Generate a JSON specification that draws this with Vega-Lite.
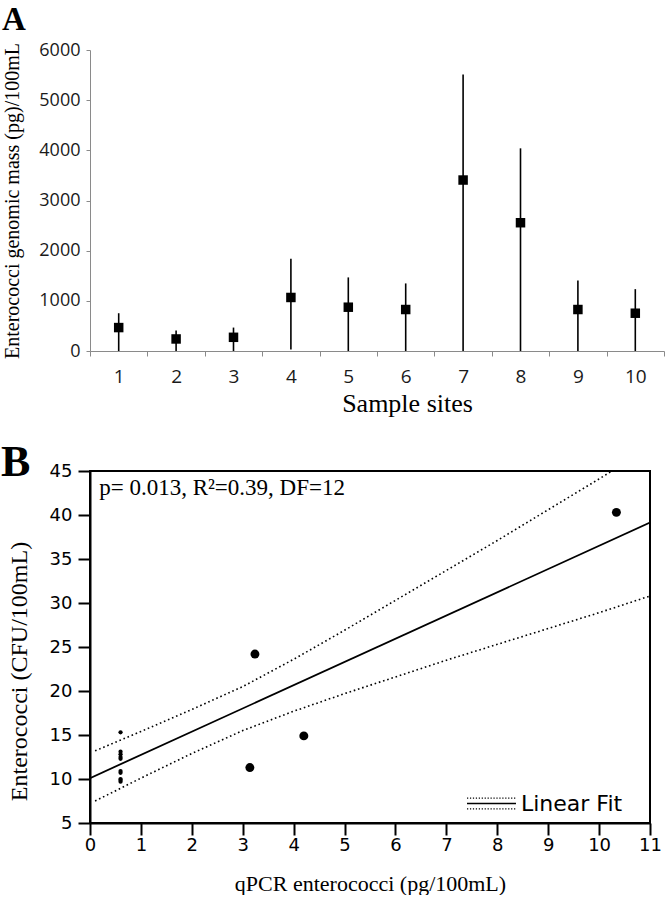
{
  "$schema": "https://vega.github.io/schema/vega-lite/v6.json",
  "background": "white",
  "padding": {"left": 0, "top": 4, "right": 2, "bottom": 0},
  "spacing": 24,
  "config": {"view": {"stroke": null}},
  "datasets": {
    "sites": [
      {"site": 1, "mean": 467, "lo": 0, "hi": 753},
      {"site": 2, "mean": 240, "lo": 0, "hi": 407},
      {"site": 3, "mean": 273, "lo": 0, "hi": 467},
      {"site": 4, "mean": 1067, "lo": 30, "hi": 1840},
      {"site": 5, "mean": 873, "lo": 0, "hi": 1467},
      {"site": 6, "mean": 827, "lo": 0, "hi": 1347},
      {"site": 7, "mean": 3408, "lo": 0, "hi": 5510},
      {"site": 8, "mean": 2557, "lo": 0, "hi": 4040},
      {"site": 9, "mean": 827, "lo": 0, "hi": 1407},
      {"site": 10, "mean": 753, "lo": 0, "hi": 1233}
    ],
    "points": [
      {"x": 0.6, "y": 15.3}, {"x": 0.6, "y": 13.1}, {"x": 0.6, "y": 12.8}, {"x": 0.6, "y": 12.5}, {"x": 0.6, "y": 12.3},
      {"x": 0.6, "y": 10.9}, {"x": 0.6, "y": 10.7}, {"x": 0.6, "y": 10.0}, {"x": 0.6, "y": 9.9}, {"x": 0.6, "y": 9.7},
      {"x": 3.14, "y": 11.3}, {"x": 3.24, "y": 24.2}, {"x": 4.2, "y": 14.9}, {"x": 10.34, "y": 40.3}
    ],
    "fit": [
      {"x": 0, "y": 10.1, "series": "Linear Fit"},
      {"x": 11, "y": 39.14, "series": "Linear Fit"}
    ],
    "bands": [
      {"x": 0.1, "y": 13.2, "side": "upper"}, {"x": 1, "y": 15.4, "side": "upper"}, {"x": 2, "y": 17.9, "side": "upper"},
      {"x": 3, "y": 20.5, "side": "upper"}, {"x": 4, "y": 23.6, "side": "upper"}, {"x": 5, "y": 26.9, "side": "upper"},
      {"x": 6, "y": 30.3, "side": "upper"}, {"x": 7, "y": 33.7, "side": "upper"}, {"x": 8, "y": 37.1, "side": "upper"},
      {"x": 9, "y": 40.6, "side": "upper"}, {"x": 10, "y": 44.1, "side": "upper"}, {"x": 10.25, "y": 45, "side": "upper"},
      {"x": 0.1, "y": 7.5, "side": "lower"}, {"x": 1, "y": 10.1, "side": "lower"}, {"x": 2, "y": 12.9, "side": "lower"},
      {"x": 3, "y": 15.5, "side": "lower"}, {"x": 4, "y": 17.7, "side": "lower"}, {"x": 5, "y": 19.7, "side": "lower"},
      {"x": 6, "y": 21.6, "side": "lower"}, {"x": 7, "y": 23.5, "side": "lower"}, {"x": 8, "y": 25.3, "side": "lower"},
      {"x": 9, "y": 27.1, "side": "lower"}, {"x": 10, "y": 28.9, "side": "lower"}, {"x": 11, "y": 30.8, "side": "lower"}
    ],
    "note": [
      {"x": 0.18, "y": 43.1, "label": "p= 0.013, R²=0.39, DF=12"}
    ]
  },
  "vconcat": [
    {
      "width": 574,
      "height": 301,
      "title": {"text": "A", "anchor": "start", "frame": "group", "font": "Liberation Serif", "fontSize": 33, "fontWeight": "bold", "color": "black", "dx": -88, "offset": 4},
      "data": {"name": "sites"},
      "encoding": {
        "x": {
          "field": "site", "type": "ordinal",
          "scale": {"paddingInner": 0, "paddingOuter": 0},
          "axis": {
            "labelAngle": 0, "tickBand": "extent", "domainColor": "#8a8a8a", "tickColor": "#8a8a8a",
            "tickSize": 5, "labelFont": "Open Sans", "labelFontSize": 19, "labelColor": "#1a1a1a", "labelPadding": 11,
            "title": "Sample sites", "titleFont": "Liberation Serif", "titleFontSize": 26, "titleFontWeight": "normal",
            "titleColor": "black", "titlePadding": 4, "titleX": 317
          }
        }
      },
      "layer": [
        {
          "mark": {"type": "rule", "color": "black", "strokeWidth": 1.6},
          "encoding": {
            "y": {
              "field": "lo", "type": "quantitative",
              "scale": {"domain": [0, 6000], "nice": false},
              "axis": {
                "values": [0, 1000, 2000, 3000, 4000, 5000, 6000], "grid": false, "domainColor": "#8a8a8a",
                "tickColor": "#8a8a8a", "tickSize": 4, "labelFont": "Open Sans", "labelFontSize": 18,
                "labelColor": "#1a1a1a", "labelPadding": 6, "format": "d",
                "title": "Enterococci genomic mass (pg)/100mL", "titleFont": "Liberation Serif", "titleFontSize": 20,
                "titleFontWeight": "normal", "titleColor": "black", "titlePadding": 16
              }
            },
            "y2": {"field": "hi"}
          }
        },
        {
          "mark": {"type": "point", "shape": "square", "filled": true, "size": 90, "color": "black", "opacity": 1},
          "encoding": {"y": {"field": "mean", "type": "quantitative"}}
        }
      ]
    },
    {
      "width": 560,
      "height": 352,
      "view": {"stroke": "black", "strokeWidth": 2},
      "title": {"text": "B", "anchor": "start", "frame": "group", "font": "Liberation Serif", "fontSize": 44, "fontWeight": "bold", "color": "black", "dx": -89, "offset": -23},
      "layer": [
        {
          "data": {"name": "bands"},
          "mark": {"type": "line", "color": "black", "strokeWidth": 1.6, "strokeDash": [1.6, 2.8], "clip": true},
          "encoding": {
            "x": {
              "field": "x", "type": "quantitative",
              "scale": {"domain": [0, 11], "nice": false},
              "axis": {
                "values": [0, 1, 2, 3, 4, 5, 6, 7, 8, 9, 10, 11], "grid": false, "domainColor": "black", "domainWidth": 2,
                "tickColor": "black", "tickWidth": 2, "tickSize": 12, "labelFont": "DejaVu Sans", "labelFontSize": 18,
                "labelColor": "black", "labelPadding": 1, "labelFlush": false,
                "title": "qPCR enterococci (pg/100mL)", "titleFont": "Liberation Serif", "titleFontSize": 22,
                "titleFontWeight": "normal", "titleColor": "black", "titlePadding": 19
              }
            },
            "y": {
              "field": "y", "type": "quantitative",
              "scale": {"domain": [5, 45], "nice": false},
              "axis": {
                "values": [5, 10, 15, 20, 25, 30, 35, 40, 45], "grid": false, "domainColor": "black", "domainWidth": 2,
                "tickColor": "black", "tickWidth": 2, "tickSize": 12, "labelFont": "DejaVu Sans", "labelFontSize": 18,
                "labelColor": "black", "labelPadding": 6, "labelFlush": false,
                "title": "Enterococci (CFU/100mL)", "titleFont": "Liberation Serif", "titleFontSize": 24,
                "titleFontWeight": "normal", "titleColor": "black", "titlePadding": 18, "titleY": 200
              }
            },
            "detail": {"field": "side", "type": "nominal"}
          }
        },
        {
          "data": {"name": "fit"},
          "mark": {"type": "line", "strokeWidth": 1.8, "clip": true},
          "encoding": {
            "x": {"field": "x", "type": "quantitative"},
            "y": {"field": "y", "type": "quantitative"},
            "color": {
              "field": "series", "type": "nominal",
              "scale": {"range": ["black"]},
              "legend": {
                "title": null, "orient": "none", "legendX": 376, "legendY": 728, "padding": 0,
                "symbolType": "M-1,-0.22h0.05m0.07,0h0.05m0.07,0h0.05m0.07,0h0.05m0.07,0h0.05m0.07,0h0.05m0.07,0h0.05m0.07,0h0.05m0.07,0h0.05m0.07,0h0.05m0.07,0h0.05m0.07,0h0.05m0.07,0h0.05m0.07,0h0.05m0.07,0h0.05m0.07,0h0.05m0.07,0h0.05M-1,0H1M-1,0.22h0.05m0.07,0h0.05m0.07,0h0.05m0.07,0h0.05m0.07,0h0.05m0.07,0h0.05m0.07,0h0.05m0.07,0h0.05m0.07,0h0.05m0.07,0h0.05m0.07,0h0.05m0.07,0h0.05m0.07,0h0.05m0.07,0h0.05m0.07,0h0.05m0.07,0h0.05m0.07,0h0.05",
                "symbolSize": 2400, "symbolStrokeWidth": 1.3, "symbolStrokeColor": "black",
                "labelFont": "DejaVu Sans", "labelFontSize": 22, "labelColor": "black", "labelOffset": 4, "labelLimit": 300
              }
            }
          }
        },
        {
          "data": {"name": "points"},
          "transform": [{"filter": "datum.x < 1"}],
          "mark": {"type": "circle", "color": "black", "size": 18, "opacity": 1},
          "encoding": {
            "x": {"field": "x", "type": "quantitative"},
            "y": {"field": "y", "type": "quantitative"}
          }
        },
        {
          "data": {"name": "points"},
          "transform": [{"filter": "datum.x >= 1"}],
          "mark": {"type": "circle", "color": "black", "size": 80, "opacity": 1},
          "encoding": {
            "x": {"field": "x", "type": "quantitative"},
            "y": {"field": "y", "type": "quantitative"}
          }
        },
        {
          "data": {"name": "note"},
          "mark": {"type": "text", "align": "left", "baseline": "middle", "font": "Liberation Serif", "fontSize": 23, "color": "black"},
          "encoding": {
            "x": {"field": "x", "type": "quantitative"},
            "y": {"field": "y", "type": "quantitative"},
            "text": {"field": "label"}
          }
        }
      ]
    }
  ]
}
